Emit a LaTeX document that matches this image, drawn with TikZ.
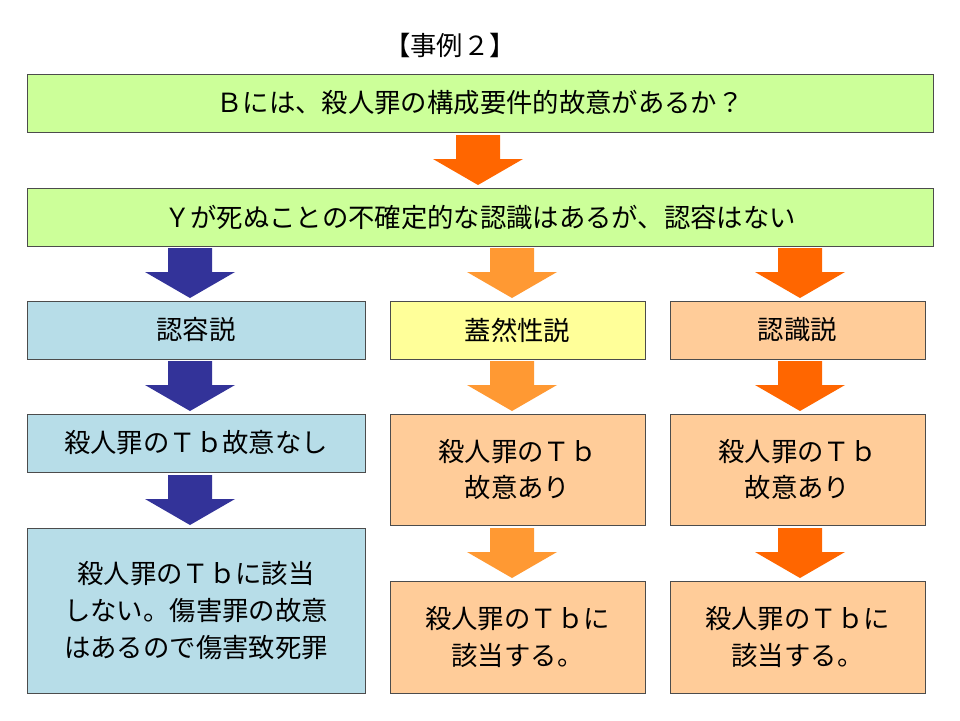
\documentclass[tikz,border=0pt]{standalone}
\usepackage{fontspec}
\setmainfont{Noto Sans CJK JP}
\usetikzlibrary{positioning}
\definecolor{boxgreen}{HTML}{CCFF99}
\definecolor{boxblue}{HTML}{B7DDE8}
\definecolor{boxyellow}{HTML}{FFFF99}
\definecolor{boxpeach}{HTML}{FFCC99}
\definecolor{arrblue}{HTML}{333399}
\definecolor{arrorange}{HTML}{FF6600}
\definecolor{arrlight}{HTML}{FF9933}
\tikzset{
  box/.style={draw=black!70,line width=0.5pt,align=center,font=\fontsize{15}{21}\selectfont},
}
% block arrow: centre x, top y, bottom y, colour
\newcommand{\blockarrow}[4]{%
  \fill[#4] (#1-22,#2) -- (#1+22,#2) -- (#1+22,#2+24) -- (#1+45,#2+24)
    -- (#1,#3) -- (#1-45,#2+24) -- (#1-22,#2+24) -- cycle;}
\begin{document}
\begin{tikzpicture}[x=0.02cm,y=-0.02cm]
\useasboundingbox (0,0) rectangle (960,720);

\node[font=\fontsize{15}{18}\selectfont] (title) at (450,45) {【事例２】};

\draw[box,fill=boxgreen] (27,74) rectangle (933,132) node[midway] (q) {Ｂには、殺人罪の構成要件的故意があるか？};
\blockarrow{478}{135}{185}{arrorange}
\draw[box,fill=boxgreen] (27,188) rectangle (933,246) node[midway] (fact) {Ｙが死ぬことの不確定的な認識はあるが、認容はない};

% three theories
\blockarrow{190}{248}{298}{arrblue}
\blockarrow{512}{248}{298}{arrlight}
\blockarrow{800}{248}{298}{arrorange}
\draw[box,fill=boxblue] (27,301) rectangle (365,359) node[midway] (ninyo) {認容説};
\draw[box,fill=boxyellow] (390,301) rectangle (645,359) node[midway] (gaizen) {蓋然性説};
\draw[box,fill=boxpeach] (670,301) rectangle (925,359) node[midway] (ninshiki) {認識説};

\blockarrow{190}{361}{411}{arrblue}
\blockarrow{512}{361}{411}{arrlight}
\blockarrow{800}{361}{411}{arrorange}
\draw[box,fill=boxblue] (27,414) rectangle (365,472) node[midway] (nashi) {殺人罪のＴｂ故意なし};
\draw[box,fill=boxpeach] (390,414) rectangle (645,525) node[midway] (ariB) {殺人罪のＴｂ\\故意あり};
\draw[box,fill=boxpeach] (670,414) rectangle (925,525) node[midway] (ariC) {殺人罪のＴｂ\\故意あり};

\blockarrow{190}{475}{525}{arrblue}
\blockarrow{512}{528}{578}{arrlight}
\blockarrow{800}{528}{578}{arrorange}
\draw[box,fill=boxblue] (27,528) rectangle (365,693) node[midway] (shogai) {殺人罪のＴｂに該当\\しない。傷害罪の故意\\はあるので傷害致死罪};
\draw[box,fill=boxpeach] (390,581) rectangle (645,693) node[midway] (gaitoB) {殺人罪のＴｂに\\該当する。};
\draw[box,fill=boxpeach] (670,581) rectangle (925,693) node[midway] (gaitoC) {殺人罪のＴｂに\\該当する。};
\end{tikzpicture}
\end{document}
